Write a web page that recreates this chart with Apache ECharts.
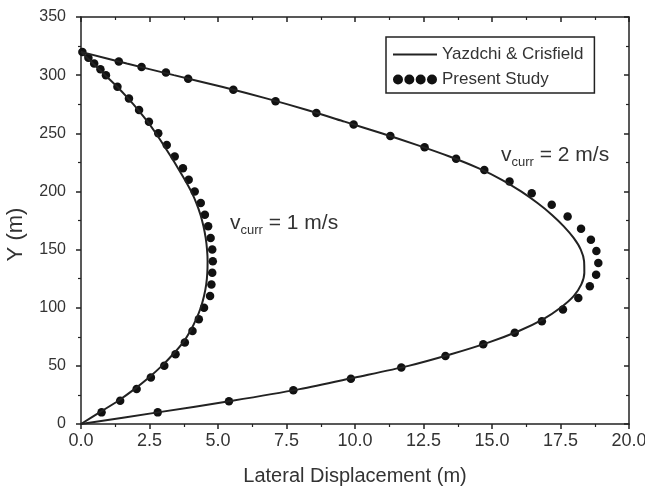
<!DOCTYPE html>
<html>
<head>
<meta charset="utf-8">
<script src="https://cdn.jsdelivr.net/npm/echarts@6/dist/echarts.min.js"></script>
<style>
  html, body { margin: 0; padding: 0; background: #fff; }
  #chart { width: 645px; height: 490px; }
</style>
</head>
<body>
<div id="chart"></div>
<script>
// Yazdchi & Crisfield (solid lines), Y (m) vs lateral displacement (m)
const lineY = [0, 10, 20, 30, 40, 50, 60, 70, 80, 90, 100, 110, 120, 130, 140, 150, 160,
               170, 180, 190, 200, 210, 220, 230, 240, 250, 260, 270, 280, 290, 300, 310, 320];
const lineV1X = [0, 0.68, 1.36, 1.95, 2.48, 2.95, 3.36, 3.72, 3.99, 4.20, 4.37, 4.49, 4.57, 4.61, 4.62, 4.60, 4.55,
                 4.47, 4.36, 4.21, 4.02, 3.79, 3.54, 3.28, 3.01, 2.73, 2.43, 2.09, 1.72, 1.32, 0.88, 0.44, 0];
const lineV2X = [0, 2.80, 5.52, 7.98, 10.0, 11.95, 13.5, 14.86, 15.98, 16.86, 17.50, 17.98, 18.26, 18.37, 18.36, 18.24, 17.98,
                 17.62, 17.18, 16.66, 16.06, 15.36, 14.50, 13.45, 12.25, 10.97, 9.62, 8.25, 6.76, 5.14, 3.39, 1.67, 0];

// Present Study (dots)
const dotV1Y = [10, 20, 30, 40, 50, 60, 70, 80, 90, 100, 110, 120, 130, 140, 150, 160, 170,
                180, 190, 200, 210, 220, 230, 240, 250, 260, 270, 280, 290, 300, 305, 310, 315, 320];
const dotV1X = [0.75, 1.43, 2.03, 2.55, 3.04, 3.45, 3.79, 4.07, 4.30, 4.49, 4.71, 4.76, 4.79, 4.81, 4.79, 4.73, 4.64,
                4.52, 4.37, 4.15, 3.93, 3.72, 3.42, 3.13, 2.82, 2.48, 2.12, 1.75, 1.33, 0.91, 0.71, 0.48, 0.27, 0.05];
const dotV2Y = [10, 19.5, 29, 39, 48.5, 58.5, 68.5, 78.5, 88.4, 98.4, 108.4, 118.4, 128.4, 138.4, 148.7, 158.5, 168,
                178.5, 188.5, 198.5, 208.5, 218.5, 228, 238, 247.6, 257.6, 267.5, 277.6, 287.4, 297, 302.3, 307, 311.7];
const dotV2X = [2.80, 5.40, 7.75, 9.85, 11.69, 13.30, 14.68, 15.83, 16.82, 17.59, 18.15, 18.57, 18.80, 18.88, 18.81, 18.61, 18.25,
                17.76, 17.18, 16.45, 15.64, 14.72, 13.69, 12.54, 11.29, 9.95, 8.59, 7.10, 5.56, 3.91, 3.10, 2.21, 1.38];

const lineName = 'Yazdchi & Crisfield';
const dotName = 'Present Study';
const font = 'Liberation Sans';
const ink = '#222';
const textInk = '#333';

function zip(xs, ys) {
    return xs.map((x, i) => [x, ys[i]]);
}

const lineIcon = 'path://M0,4L44,4L44,6L0,6Z';
const dotsIcon = 'path://M0,5a5,5 0 1,0 10,0a5,5 0 1,0 -10,0Z' +
    'M11.33,5a5,5 0 1,0 10,0a5,5 0 1,0 -10,0Z' +
    'M22.67,5a5,5 0 1,0 10,0a5,5 0 1,0 -10,0Z' +
    'M34,5a5,5 0 1,0 10,0a5,5 0 1,0 -10,0Z';

const axisLine = { show: true, onZero: false, lineStyle: { color: ink, width: 1.5 } };

function frameAxis(pos, min, max, interval, main, name) {
    const horizontal = pos === 'bottom' || pos === 'top';
    return {
        type: 'value',
        position: pos,
        min: min,
        max: max,
        interval: interval,
        name: main ? name : '',
        nameLocation: 'middle',
        nameGap: horizontal ? 42 : 54,
        nameTextStyle: {
            fontFamily: font,
            fontSize: horizontal ? 20 : 22,
            color: textInk,
            padding: horizontal ? 0 : [0, 28, 0, 0]
        },
        axisLine: axisLine,
        axisTick: { show: true, inside: !main, length: 5, lineStyle: { color: ink, width: 1.5 } },
        minorTick: { show: true, splitNumber: 2, length: 3, lineStyle: { color: ink, width: 1.2 } },
        axisLabel: {
            show: main,
            fontFamily: font,
            fontSize: horizontal ? 18 : 16,
            color: textInk,
            margin: horizontal ? 8 : 15,
            formatter: horizontal ? (v => v.toFixed(1)) : (v => String(v))
        },
        splitLine: { show: false }
    };
}

const subStyle = { s: { fontSize: 13, fontFamily: font, fill: textInk, padding: [13, 0, 0, 0] } };

const chart = echarts.init(document.getElementById('chart'));
chart.setOption({
    animation: false,
    backgroundColor: '#fff',
    grid: { left: 81, right: 16, top: 17, bottom: 66, containLabel: false, outerBoundsMode: 'none' },
    xAxis: [
        frameAxis('bottom', 0, 20, 2.5, true, 'Lateral Displacement (m)'),
        frameAxis('top', 0, 20, 2.5, false, '')
    ],
    yAxis: [
        frameAxis('left', 0, 350, 50, true, 'Y (m)'),
        frameAxis('right', 0, 350, 50, false, '')
    ],
    legend: {
        orient: 'vertical',
        left: 386,
        top: 37,
        padding: [9, 11, 5, 7],
        itemGap: 8,
        itemWidth: 44,
        itemHeight: 10,
        borderColor: ink,
        borderWidth: 1.5,
        textStyle: { fontFamily: font, fontSize: 17, color: textInk },
        data: [
            { name: lineName, icon: lineIcon },
            { name: dotName, icon: dotsIcon }
        ]
    },
    graphic: [
        {
            type: 'text',
            left: 230,
            top: 213,
            style: {
                text: 'v{s|curr} = 1 m/s',
                fill: textInk,
                font: '21px "Liberation Sans"',
                rich: subStyle
            }
        },
        {
            type: 'text',
            left: 501,
            top: 145,
            style: {
                text: 'v{s|curr} = 2 m/s',
                fill: textInk,
                font: '21px "Liberation Sans"',
                rich: subStyle
            }
        }
    ],
    series: [
        {
            name: lineName,
            type: 'line',
            data: zip(lineV1X, lineY),
            symbol: 'none',
            smooth: 0.3,
            lineStyle: { color: ink, width: 2 },
            itemStyle: { color: ink }
        },
        {
            name: lineName,
            type: 'line',
            data: zip(lineV2X, lineY),
            symbol: 'none',
            smooth: 0.3,
            lineStyle: { color: ink, width: 2 },
            itemStyle: { color: ink }
        },
        {
            name: dotName,
            type: 'scatter',
            data: zip(dotV1X, dotV1Y),
            symbolSize: 8.5,
            itemStyle: { color: '#111', opacity: 1 }
        },
        {
            name: dotName,
            type: 'scatter',
            data: zip(dotV2X, dotV2Y),
            symbolSize: 8.5,
            itemStyle: { color: '#111', opacity: 1 }
        }
    ]
});
</script>
</body>
</html>
